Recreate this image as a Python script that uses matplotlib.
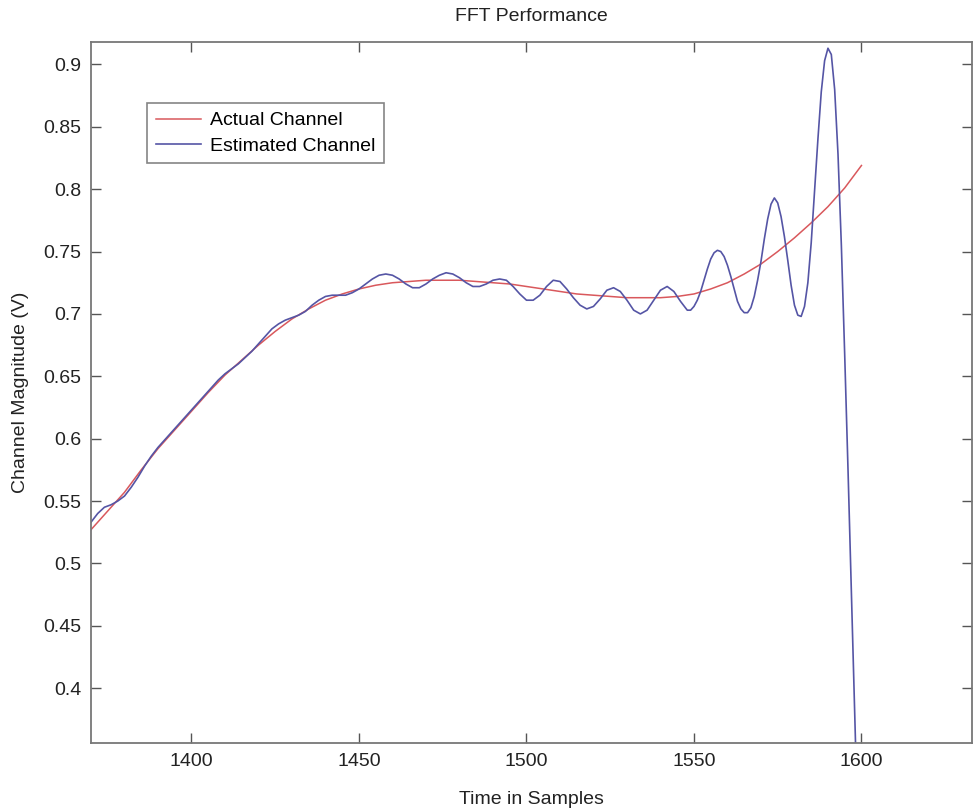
import matplotlib
matplotlib.use("Agg")
import matplotlib.pyplot as plt
from matplotlib.ticker import FuncFormatter

plt.rcParams['font.family'] = ['Liberation Sans', 'DejaVu Sans']

# ---- data ----
actual_x = [1370, 1375, 1380, 1385, 1390, 1395, 1400, 1405, 1410, 1415, 1420,
            1425, 1430, 1435, 1440, 1445, 1450, 1455, 1460, 1465, 1470, 1475,
            1480, 1485, 1490, 1495, 1500, 1505, 1510, 1515, 1520, 1525, 1530,
            1535, 1540, 1545, 1550, 1555, 1560, 1565, 1570, 1575, 1580, 1585,
            1590, 1595, 1600]
actual_y = [0.527, 0.542, 0.557, 0.575, 0.592, 0.607, 0.622, 0.637, 0.651, 0.663,
            0.675, 0.686, 0.696, 0.704, 0.711, 0.716, 0.720, 0.723, 0.725, 0.726,
            0.727, 0.727, 0.727, 0.726, 0.725, 0.724, 0.722, 0.720, 0.718, 0.716,
            0.715, 0.714, 0.713, 0.713, 0.713, 0.714, 0.716, 0.720, 0.725, 0.732,
            0.740, 0.750, 0.761, 0.773, 0.786, 0.801, 0.819]

est_x = [1370, 1372, 1374, 1376, 1378, 1380, 1382, 1384, 1386, 1388, 1390, 1392,
         1394, 1396, 1398, 1400, 1402, 1404, 1406, 1408, 1410, 1412, 1414, 1416,
         1418, 1420, 1422, 1424, 1426, 1428, 1430, 1432, 1434, 1436, 1438, 1440,
         1442, 1444, 1446, 1448, 1450, 1452, 1454, 1456, 1458, 1460, 1462, 1464,
         1466, 1468, 1470, 1472, 1474, 1476, 1478, 1480, 1482, 1484, 1486, 1488,
         1490, 1492, 1494, 1496, 1498, 1500, 1502, 1504, 1506, 1508, 1510, 1512,
         1514, 1516, 1518, 1520, 1522, 1524, 1526, 1528, 1530, 1532, 1534, 1536,
         1538, 1540, 1542, 1544, 1546, 1548, 1549, 1550, 1551, 1552, 1553, 1554,
         1555, 1556, 1557, 1558, 1559, 1560, 1561, 1562, 1563, 1564, 1565, 1566,
         1567, 1568, 1569, 1570, 1571, 1572, 1573, 1574, 1575, 1576, 1577, 1578,
         1579, 1580, 1581, 1582, 1583, 1584, 1585, 1586, 1587, 1588, 1589, 1590,
         1591, 1592, 1593, 1594, 1595, 1596, 1597, 1598, 1599]
est_y = [0.533, 0.540, 0.545, 0.547, 0.550, 0.554, 0.561, 0.569, 0.578, 0.586,
         0.593, 0.599, 0.605, 0.611, 0.617, 0.623, 0.629, 0.635, 0.641, 0.647,
         0.652, 0.656, 0.660, 0.665, 0.670, 0.676, 0.682, 0.688, 0.692, 0.695,
         0.697, 0.699, 0.702, 0.707, 0.711, 0.714, 0.715, 0.715, 0.715, 0.717,
         0.720, 0.724, 0.728, 0.731, 0.732, 0.731, 0.728, 0.724, 0.721, 0.721,
         0.724, 0.728, 0.731, 0.733, 0.732, 0.729, 0.725, 0.722, 0.722, 0.724,
         0.727, 0.728, 0.727, 0.722, 0.716, 0.711, 0.711, 0.715, 0.722, 0.727,
         0.726, 0.720, 0.713, 0.707, 0.704, 0.706, 0.712, 0.719, 0.721, 0.718,
         0.711, 0.703, 0.700, 0.703, 0.711, 0.719, 0.722, 0.718, 0.710, 0.703,
         0.703, 0.706, 0.711, 0.718, 0.727, 0.736, 0.744, 0.749, 0.751, 0.750,
         0.746, 0.739, 0.730, 0.720, 0.710, 0.704, 0.701, 0.701, 0.705, 0.714,
         0.727, 0.742, 0.760, 0.776, 0.788, 0.793, 0.789, 0.778, 0.762, 0.743,
         0.723, 0.707, 0.699, 0.698, 0.706, 0.725, 0.757, 0.798, 0.840, 0.878,
         0.903, 0.913, 0.908, 0.880, 0.828, 0.755, 0.667, 0.574, 0.477, 0.380,
         0.280]

x_ticks = [1400, 1450, 1500, 1550, 1600]
y_ticks = [0.4, 0.45, 0.5, 0.55, 0.6, 0.65, 0.7, 0.75, 0.8, 0.85, 0.9]

# ---- figure ----
fig = plt.figure(figsize=(9.74, 8.08), dpi=100)
ax = fig.add_axes([91 / 974, 1 - 743 / 808, (972 - 91) / 974, (743 - 42) / 808])

ax.plot(actual_x, actual_y, color='#d9585c', lw=1.1, label='Actual Channel')
ax.plot(est_x, est_y, color='#5555a5', lw=1.2, label='Estimated Channel')

ax.set_xlim(1370, 1633)
ax.set_ylim(0.356, 0.918)
ax.set_xticks(x_ticks)
ax.set_yticks(y_ticks)
ax.yaxis.set_major_formatter(FuncFormatter(lambda v, p: f"{v:g}"))

ax.tick_params(direction='in', length=7, width=1, color='#555555',
               labelsize=14, top=True, right=True, pad=7, labelcolor='#222222')
for s in ax.spines.values():
    s.set_color('#777777')
    s.set_linewidth(1.3)

ax.set_title('FFT Performance', fontsize=14, pad=15, color='#222222')
ax.set_xlabel('Time in Samples', fontsize=14, labelpad=15, color='#222222')
ax.set_ylabel('Channel Magnitude (V)', fontsize=14, labelpad=10, color='#222222')

leg = ax.legend(loc='upper left', bbox_to_anchor=(0.064, 0.913), fontsize=14,
                frameon=True, fancybox=False, borderaxespad=0, handlelength=2.3,
                borderpad=0.45, labelspacing=0.4, handletextpad=0.45)
leg.get_frame().set_edgecolor('#666666')
leg.get_frame().set_linewidth(1.2)

fig.savefig('out.png', dpi=100)
